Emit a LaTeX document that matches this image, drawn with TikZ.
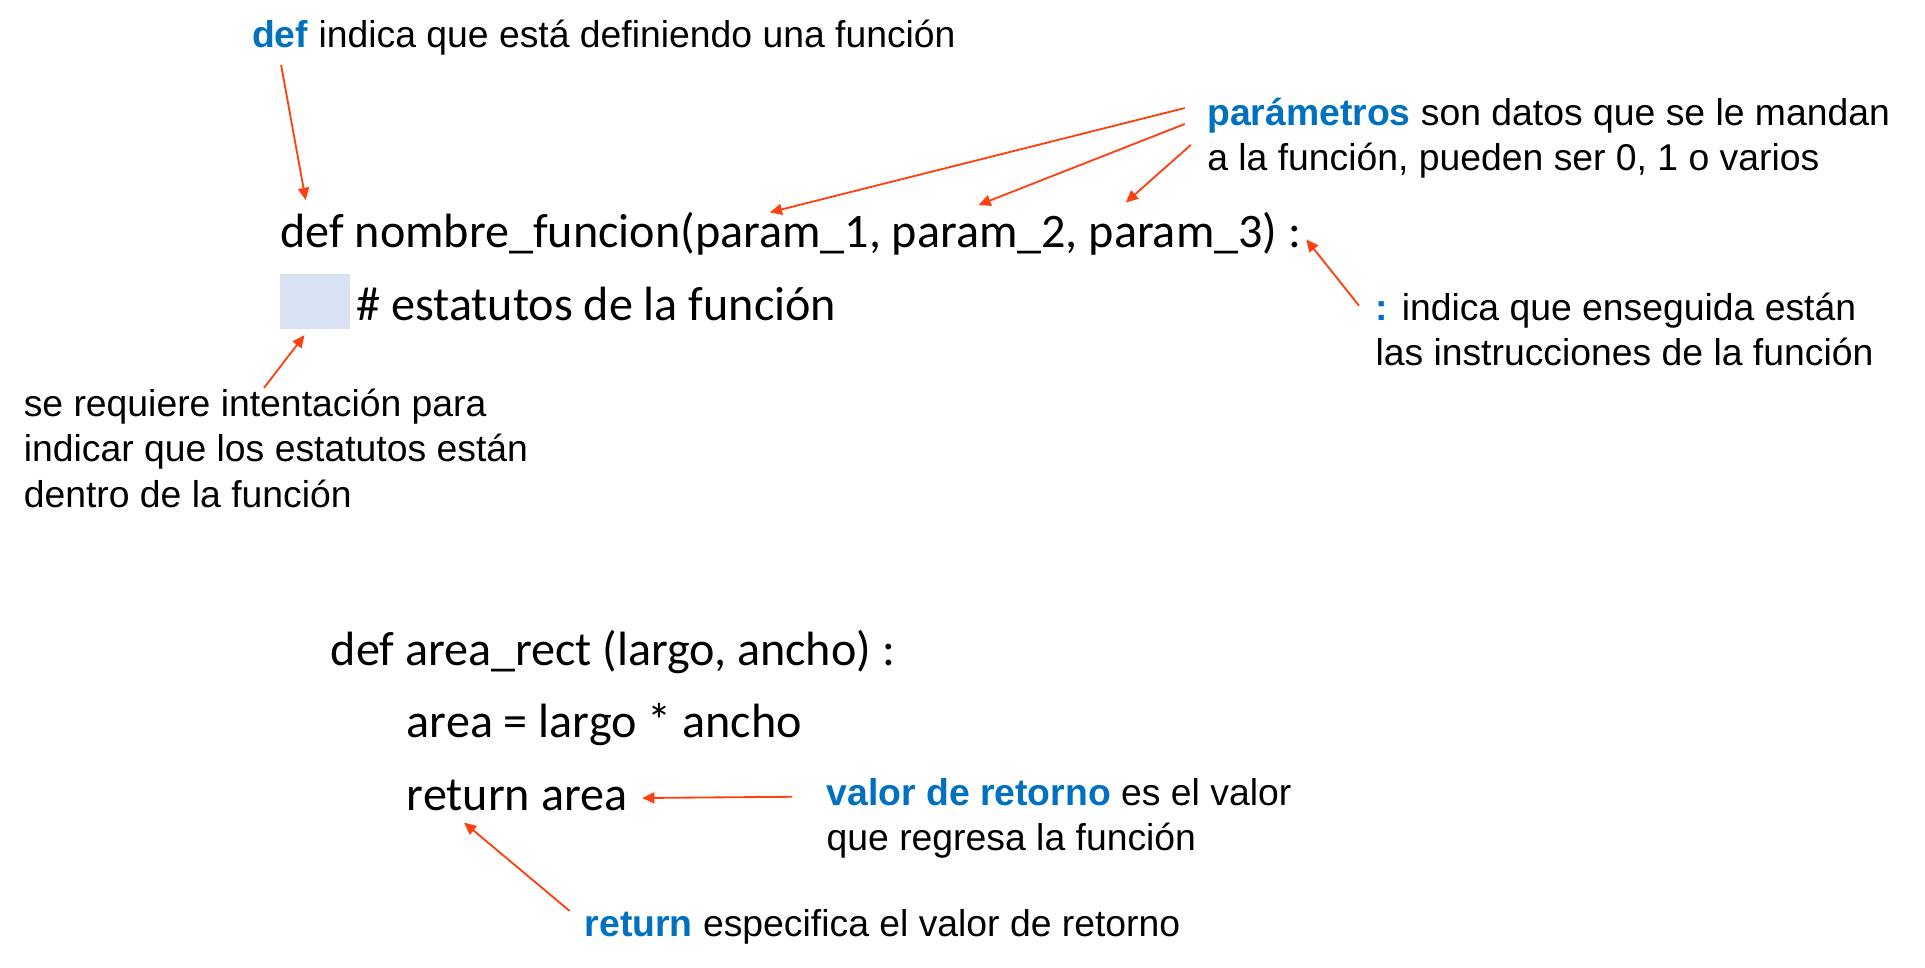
\documentclass[tikz,border=0pt]{standalone}
\usepackage{fontspec}
\setmainfont{Liberation Sans}
\newfontfamily\codefont{Carlito}
\usetikzlibrary{arrows.meta}
\definecolor{kwblue}{RGB}{0,112,192}
\definecolor{arrred}{RGB}{255,64,16}
\definecolor{indentfill}{RGB}{217,226,243}
\newcommand{\kw}[1]{\textcolor{kwblue}{\textbf{#1}}}
\tikzset{
  note/.style={anchor=base west, inner sep=0pt, font=\fontsize{15.2}{18.5}\selectfont},
  code/.style={anchor=base west, inner sep=0pt, font=\codefont\fontsize{19.6}{23}\selectfont},
  pointer/.style={draw=arrred, line width=0.75pt, -{Triangle[length=5pt,width=4.5pt]}},
}

\begin{document}
\begin{tikzpicture}[x=0.5pt, y=-0.5pt]
  \useasboundingbox (0,0) rectangle (1568,788);
  % ------------------------------------------------------------------ first function
  \fill[indentfill] (228,223) rectangle (285,268);
  \node[code] (defline) at (228,202) {def nombre\_funcion(param\_1, param\_2, param\_3) :};
  \node[code] (body) at (290,261) {\# estatutos de la función};
  % notes
  \node[note] (defnote) at (205,39) {\kw{def} indica que está definiendo una función};
  \node[note] (parnote1) at (983,102) {\kw{parámetros} son datos que se le mandan};
  \node[note] (parnote2) at (983,139) {a la función, pueden ser 0, 1 o varios};
  \node[note] (colnote1) at (1120,261) {\kw{:} indica que enseguida están};
  \node[note] (colnote2) at (1120,298) {las instrucciones de la función};
  \foreach \txt [count=\i from 0] in {se requiere intentación para, indicar que los estatutos están, dentro de la función}
    {\node[note] (indnote\i) at (19,339+37*\i) {\txt};}
  % arrows
  \coordinate (defTail) at (229,53);   \coordinate (defTip) at (249,163);
  \coordinate (parTailA) at (965,88);  \coordinate (parTipA) at (627,173);
  \coordinate (parTailB) at (965,101); \coordinate (parTipB) at (797,167);
  \coordinate (parTailC) at (970,118); \coordinate (parTipC) at (917,165);
  \coordinate (colTail) at (1107,249); \coordinate (colTip) at (1064,195);
  \coordinate (indTail) at (215,316);  \coordinate (indTip) at (248,273);
  \draw[pointer] (defTail) -- (defTip);
  \foreach \p in {A,B,C} {\draw[pointer] (parTail\p) -- (parTip\p);}
  \draw[pointer] (colTail) -- (colTip);
  \draw[pointer] (indTail) -- (indTip);
  % ------------------------------------------------------------------ example area_rect
  \node[code] (areadef) at (269,542) {def area\_rect (largo, ancho) :};
  \node[code] (areacalc) at (331,601) {area = largo * ancho};
  \node[code] (arearet) at (331,660) {return area};
  \node[note] (valnote1) at (673,656) {\kw{valor de retorno} es el valor};
  \node[note] (valnote2) at (673,693) {que regresa la función};
  \node[note] (retnote) at (476,763) {\kw{return} especifica el valor de retorno};
  \coordinate (valTail) at (645,649);  \coordinate (valTip) at (523,650);
  \coordinate (retTail) at (464,742);  \coordinate (retTip) at (378,670);
  \draw[pointer] (valTail) -- (valTip);
  \draw[pointer] (retTail) -- (retTip);
\end{tikzpicture}
\end{document}
